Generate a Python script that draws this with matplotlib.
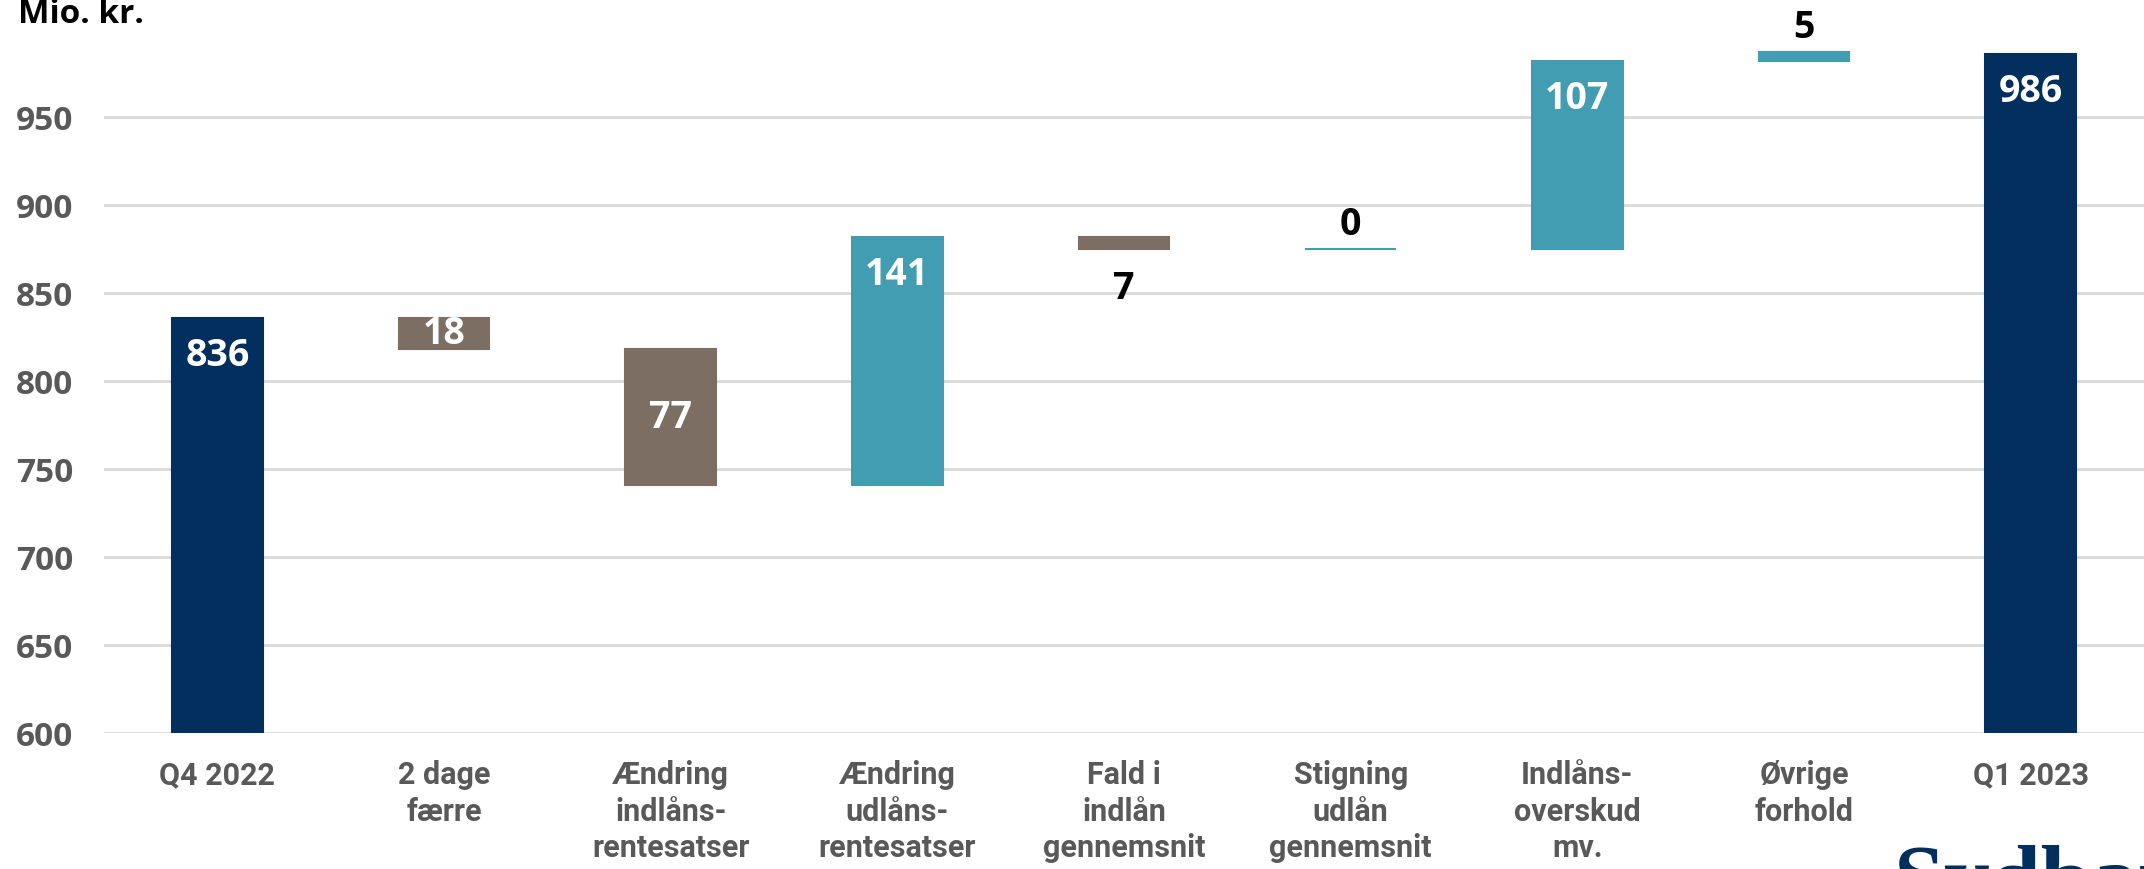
import matplotlib.pyplot as plt
import numpy as np

categories = ['Q4 2022', '2 dage\nfærre', 'Ændring\nindlåns-\nrentesatser',
              'Ændring\nudlåns-\nrentesatser', 'Fald i\nindlån\ngennemsnit',
              'Stigning\nudlån\ngennemsnit', 'Indlåns-\noverskud\nmv.',
              'Øvrige\nforhold', 'Q1 2023']
start_value = 836
changes = [-18, -77, 141, -7, 0, 107, 5]
end_value = 986
yticks = [600, 650, 700, 750, 800, 850, 900, 950]

navy = '#022F5E'
teal = '#429DB2'
brown = '#7D6E64'
grey = '#595959'

# build waterfall bottoms/heights
bottoms = [600]
heights = [start_value - 600]
colors = [navy]
level = start_value
for c in changes:
    if c < 0:
        bottoms.append(level + c)
        heights.append(-c)
        colors.append(brown)
    else:
        bottoms.append(level)
        heights.append(c)
        colors.append(teal)
    level += c
bottoms.append(600)
heights.append(end_value - 600)
colors.append(navy)

fig = plt.figure(figsize=(21.44, 8.7), dpi=100)
ax = fig.add_axes([104 / 2144, 1 - 734 / 870, 1 - 104 / 2144, (734 - 30) / 870])

x = np.arange(len(categories))
ax.bar(x, heights, bottom=bottoms, width=0.4, color=colors, edgecolor=colors,
       linewidth=1.5, zorder=3)

ax.set_xlim(-0.5, len(categories) - 0.5)
ax.set_ylim(600, 1000)
ax.set_yticks(yticks)
ax.yaxis.grid(True, color='#D9D9D9', linewidth=2, zorder=0)
ax.set_axisbelow(True)
for s in ax.spines.values():
    s.set_visible(False)
ax.tick_params(length=0)
ax.tick_params(axis='y', pad=22)
ax.tick_params(axis='x', pad=19)
ax.set_xticks(x)
ax.set_xticklabels(categories, family=['Roboto', 'DejaVu Sans'],
                   fontweight='bold', fontsize=22, color=grey, linespacing=1.27,
                   va='top')
for lab in ax.get_yticklabels():
    lab.set_family(['Open Sans', 'DejaVu Sans'])
    lab.set_fontweight('bold')
    lab.set_fontsize(24)
    lab.set_color(grey)

# value labels
vals = [start_value] + changes + [end_value]
lab_kw = dict(ha='center', fontsize=27, fontweight='bold',
              family=['Open Sans', 'DejaVu Sans'], zorder=5)
for i, v in enumerate(vals):
    top = bottoms[i] + heights[i]
    txt = str(abs(v))
    if colors[i] == brown and heights[i] >= 15:
        ax.text(i, bottoms[i] + heights[i] / 2, txt, va='center', color='white', **lab_kw)
    elif heights[i] >= 15:
        ax.text(i, top - 21, txt, va='center', color='white', **lab_kw)
    elif v < 0:
        ax.text(i, bottoms[i] - 22, txt, va='center', color='black', **lab_kw)
    else:
        ax.text(i, top + 14, txt, va='center', color='black', clip_on=False, **lab_kw)

fig.text(18 / 2144, 1 - 23 / 870, 'Mio. kr.', fontsize=24, fontweight='bold',
         family=['Open Sans', 'DejaVu Sans'], color='black', va='baseline')
fig.text(1893 / 2144, 1 - 845 / 870, 'Sydbank', fontsize=66, fontweight='bold',
         family=['Liberation Serif', 'DejaVu Serif'], color=navy, va='top')

fig.savefig('out.png', dpi=100)
